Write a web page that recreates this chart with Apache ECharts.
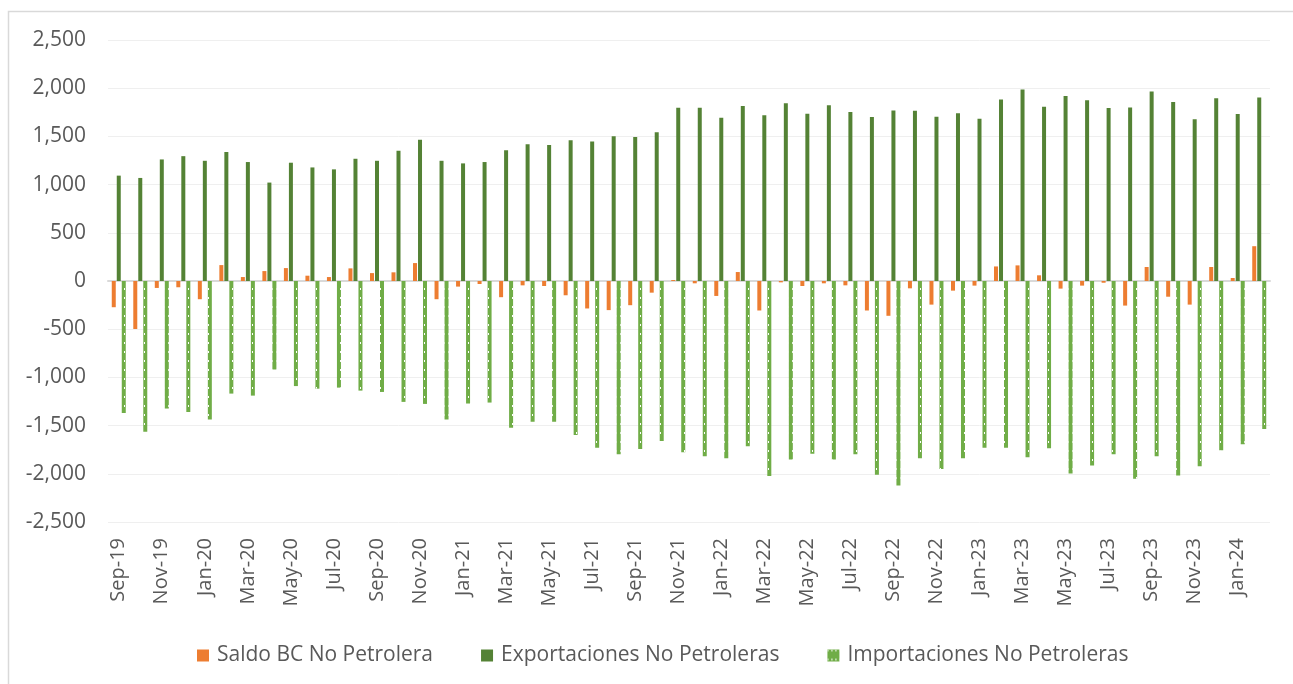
<!DOCTYPE html>
<html>
<head>
<meta charset="utf-8">
<script src="https://cdn.jsdelivr.net/npm/echarts@6/dist/echarts.min.js"></script>
<style>
html,body{margin:0;padding:0;background:#fff;}
#c{width:1293px;height:684px;}
</style>
</head>
<body>
<div id="c"></div>
<script>
var categories = ["Sep-19","Oct-19","Nov-19","Dec-19",
"Jan-20","Feb-20","Mar-20","Apr-20","May-20","Jun-20","Jul-20","Aug-20","Sep-20","Oct-20","Nov-20","Dec-20",
"Jan-21","Feb-21","Mar-21","Apr-21","May-21","Jun-21","Jul-21","Aug-21","Sep-21","Oct-21","Nov-21","Dec-21",
"Jan-22","Feb-22","Mar-22","Apr-22","May-22","Jun-22","Jul-22","Aug-22","Sep-22","Oct-22","Nov-22","Dec-22",
"Jan-23","Feb-23","Mar-23","Apr-23","May-23","Jun-23","Jul-23","Aug-23","Sep-23","Oct-23","Nov-23","Dec-23",
"Jan-24","Feb-24"];

var saldo = [-272,-498,-72,-65,
-189,165,41,103,134,55,41,131,82,90,186,-189,
-58,-31,-168,-45,-52,-148,-285,-302,-251,-121,10,-24,
-155,93,-306,-14,-52,-24,-45,-306,-361,-76,-245,-100,
-48,151,162,59,-79,-48,-18,-255,145,-163,-245,145,
31,361];

var exportaciones = [1093,1069,1261,1295,
1247,1337,1234,1021,1227,1178,1158,1268,1247,1350,1466,1247,
1220,1234,1357,1419,1412,1460,1446,1501,1494,1542,1796,1796,
1693,1816,1720,1844,1734,1823,1754,1700,1769,1767,1705,1739,
1684,1883,1986,1808,1918,1876,1794,1801,1966,1856,1677,1897,
1732,1904];

var importaciones = [-1368,-1564,-1323,-1358,
-1436,-1168,-1189,-918,-1090,-1117,-1106,-1137,-1151,-1254,-1275,-1436,
-1271,-1261,-1523,-1461,-1461,-1598,-1729,-1797,-1742,-1660,-1777,-1818,
-1838,-1715,-2024,-1852,-1791,-1852,-1797,-2010,-2121,-1838,-1949,-1838,
-1729,-1729,-1828,-1735,-1997,-1914,-1797,-2052,-1818,-2017,-1921,-1756,
-1694,-1536];

var yTicks = {min: -2500, max: 2500, interval: 500};
var seriesNames = ["Saldo BC No Petrolera","Exportaciones No Petroleras","Importaciones No Petroleras"];

var FONT = "Open Sans";
var TXT = "#595959";
var chart = echarts.init(document.getElementById('c'));
chart.setOption({
  animation: false,
  backgroundColor: '#fff',
  graphic: [{
    type: 'rect', left: 6, top: 9, silent: true,
    shape: {x: 0, y: 0, width: 1300, height: 700},
    style: {fill: 'none', stroke: '#D9D9D9', lineWidth: 1.5}
  }],
  grid: {left: 108, right: 23, top: 40, bottom: 162, containLabel: false},
  legend: {
    data: seriesNames,
    left: 192, top: 640,
    itemWidth: 12, itemHeight: 12, itemGap: 48,
    icon: 'rect',
    textStyle: {fontFamily: FONT, fontSize: 21, color: TXT, padding: [0,0,0,3]}
  },
  xAxis: [{
    type: 'category', data: categories,
    axisLine: {show: false, onZero: false},
    axisTick: {show: false},
    splitLine: {show: false},
    axisLabel: {interval: 1, rotate: 90, margin: 16, fontFamily: FONT, fontSize: 20, color: TXT}
  }, {
    type: 'category', data: categories,
    axisLine: {show: true, onZero: true, lineStyle: {color: '#D9D9D9', width: 2}},
    axisTick: {show: false},
    axisLabel: {show: false},
    splitLine: {show: false}
  }],
  yAxis: {
    type: 'value', min: yTicks.min, max: yTicks.max, interval: yTicks.interval,
    axisLine: {show: false}, axisTick: {show: false},
    splitLine: {lineStyle: {color: '#EFEFEF', width: 1}},
    axisLabel: {
      margin: 22, fontFamily: FONT, fontSize: 21, color: TXT,
      formatter: function (v) { return v.toLocaleString('en-US'); }
    }
  },
  series: [{
    name: seriesNames[0], type: 'bar', data: saldo, xAxisIndex: 0,
    barWidth: 4, barGap: '25%',
    itemStyle: {color: '#ED7D31'}
  }, {
    name: seriesNames[1], type: 'bar', data: exportaciones, xAxisIndex: 0,
    barWidth: 4, barGap: '25%',
    itemStyle: {color: '#548235'}
  }, {
    name: seriesNames[2], type: 'bar', data: importaciones, xAxisIndex: 0,
    barWidth: 4, barGap: '25%',
    itemStyle: {
      color: '#70AD47',
      decal: {symbol: 'rect', symbolSize: 1, color: '#ffffff', dashArrayX: [1, 3], dashArrayY: [2, 7], rotation: 0}
    }
  }]
});
</script>
</body>
</html>
